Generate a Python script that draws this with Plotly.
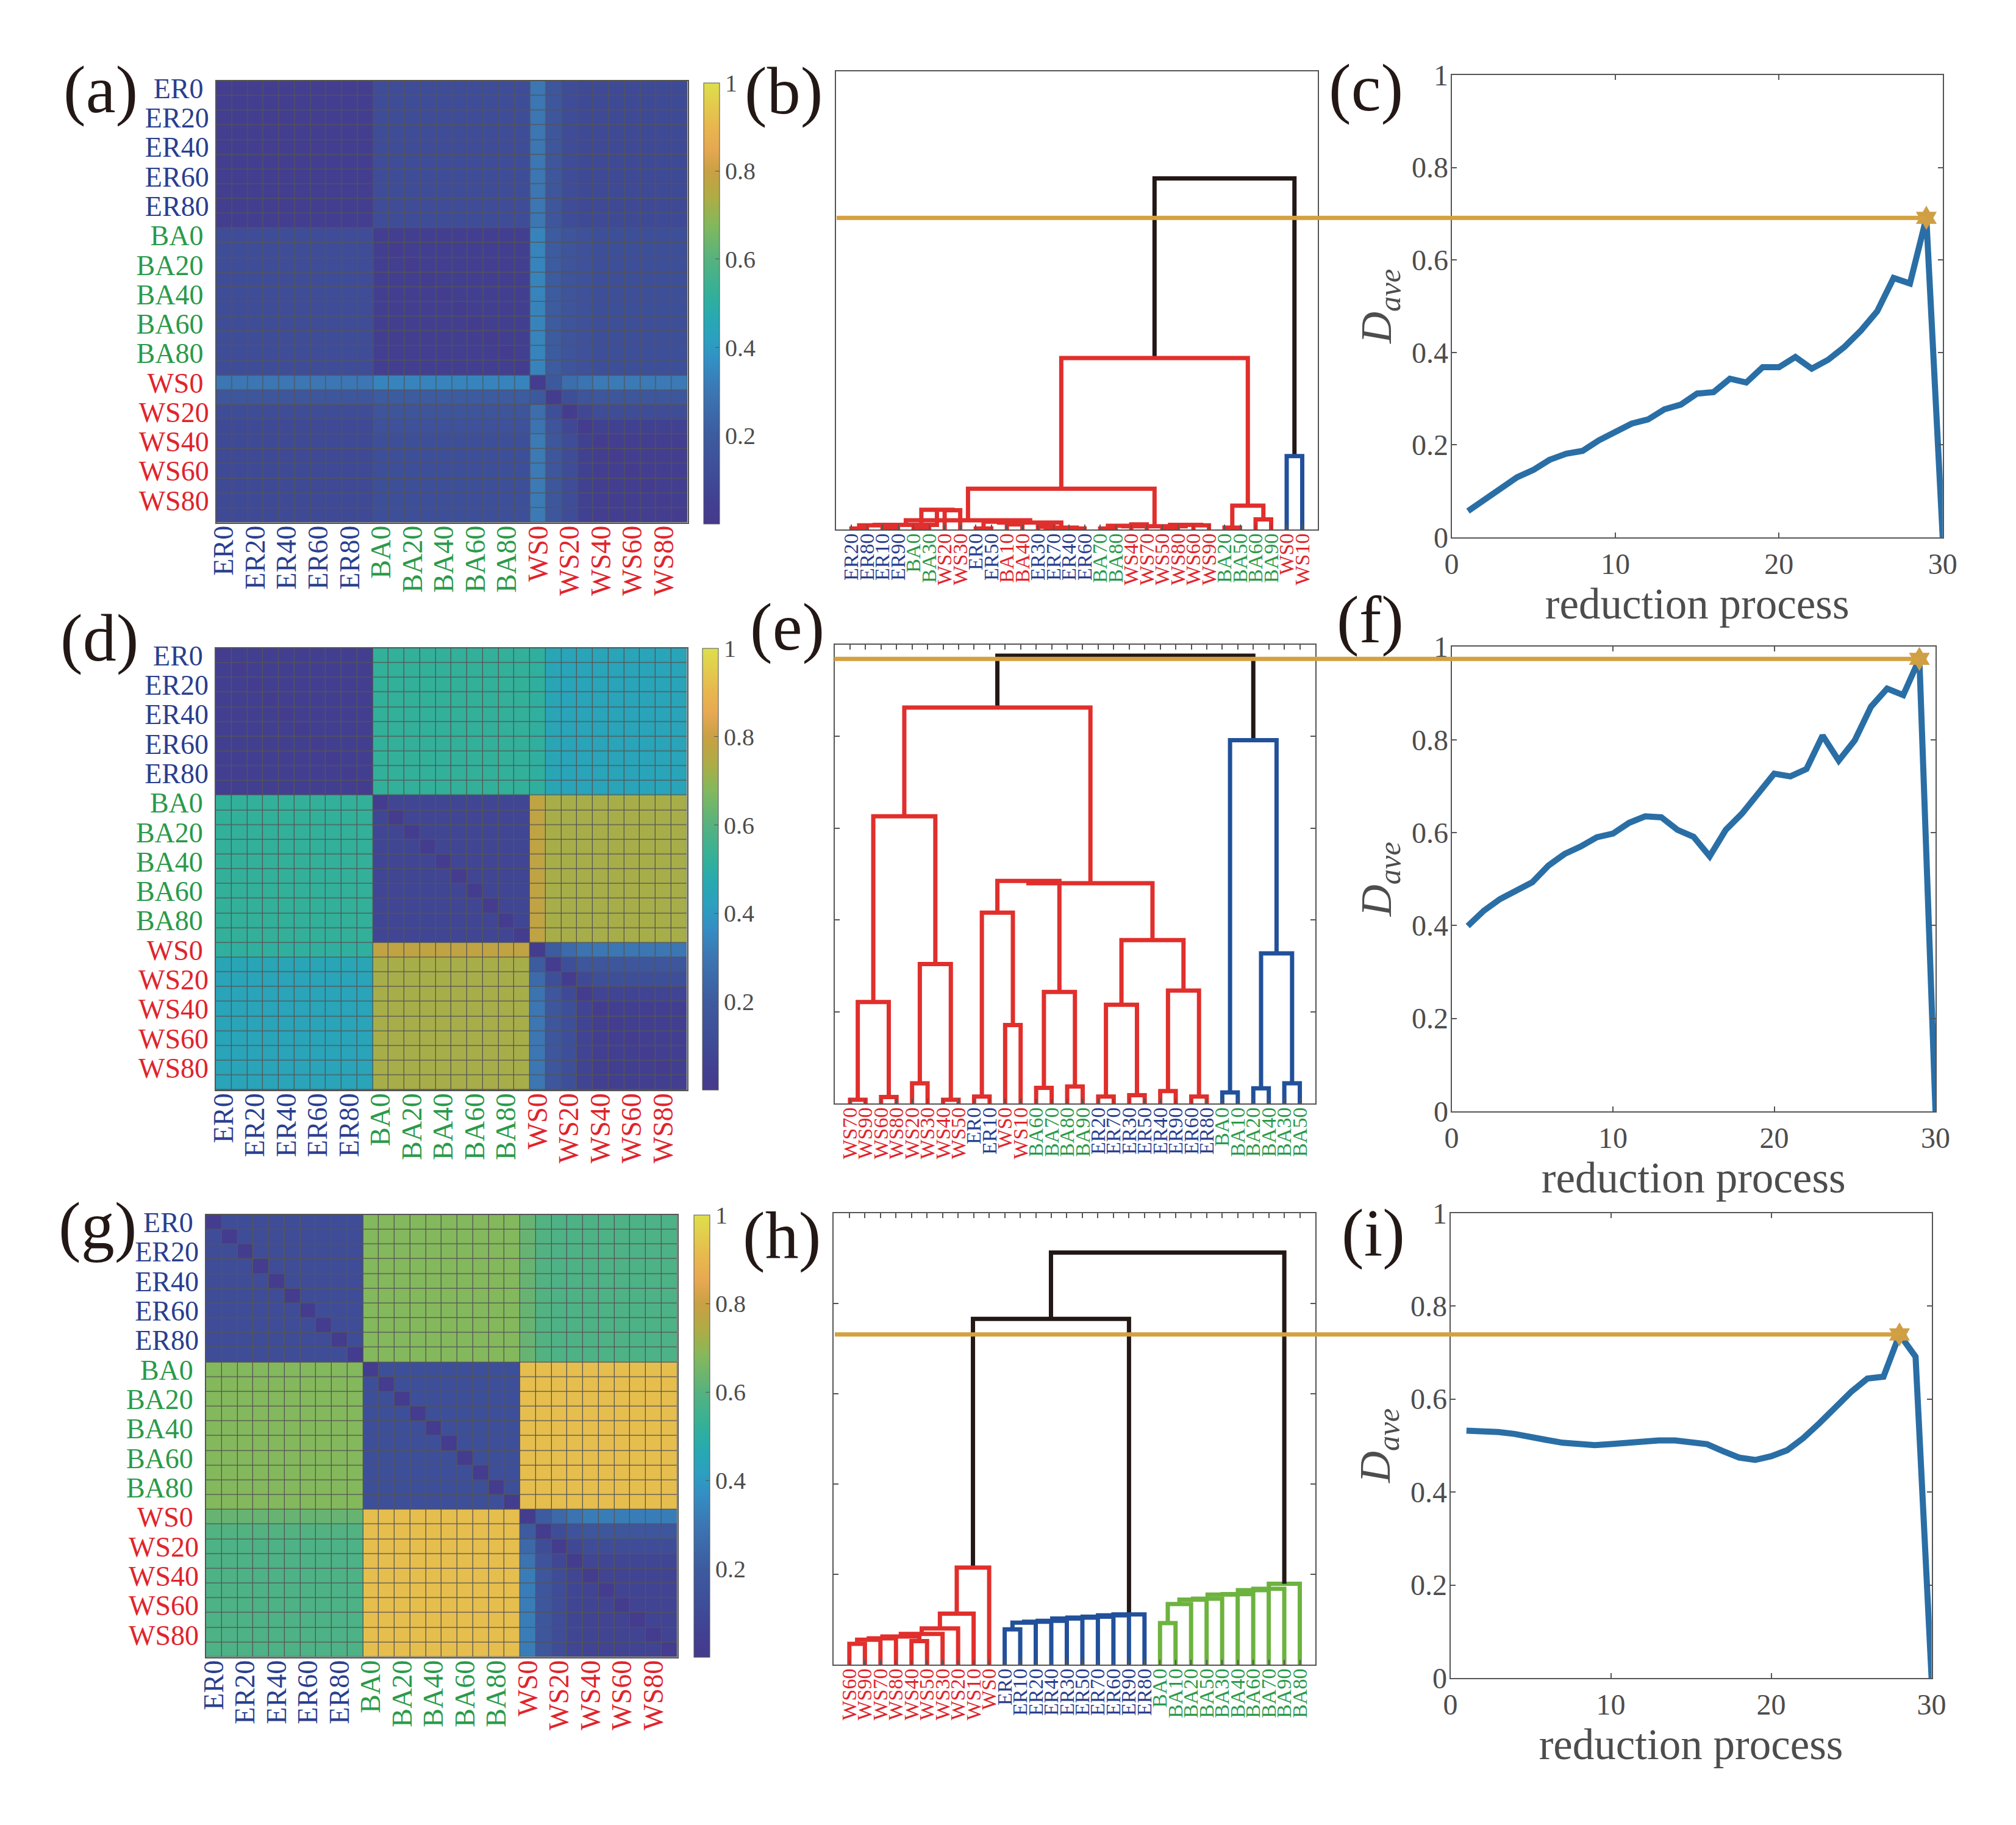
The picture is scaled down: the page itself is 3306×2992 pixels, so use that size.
import numpy as np
import plotly.graph_objects as go

W = 3306
H = 2992
PAGE_MARGIN = 8  # default body margin of the written page

# colormap
palette = [[0, '#463a8c'], [0.05, '#423f91'], [0.1, '#3f4a96'], [0.2, '#3d5b9f'], [0.3, '#3c76b3'],
           [0.37, '#338fc4'], [0.42, '#2ba0bf'], [0.47, '#27a9b0'], [0.52, '#32b09a'], [0.6, '#56b27f'],
           [0.68, '#84b85c'], [0.74, '#aeac45'], [0.8, '#c9a043'], [0.85, '#e6a852'], [0.9, '#e8b64e'],
           [1, '#dedf4c']]

heat_labels = ['ER0', 'ER20', 'ER40', 'ER60', 'ER80', 'BA0', 'BA20', 'BA40', 'BA60', 'BA80',
               'WS0', 'WS20', 'WS40', 'WS60', 'WS80']

# rows of the similarity matrices: ER block, BA block, WS0, WS10, WS20, WS30, WS40-WS90
band_sizes = [10, 10, 1, 1, 1, 1, 6]

a_bands = [[.04, .12, .30, .17, .11, .10, .10],
           [.12, .05, .34, .20, .16, .14, .13],
           [.30, .34, .02, .19, .27, .29, .31],
           [.17, .20, .19, .02, .13, .16, .17],
           [.11, .16, .27, .13, .03, .09, .11],
           [.10, .14, .29, .16, .09, .03, .06],
           [.10, .13, .31, .17, .11, .06, .04]]
a_diag = [.04, .04, .04, .04, .04, .04, .04, .04, .04, .04, .04, .03, .03, .03, .03,
          .03, .03, .03, .03, .03, .02, .02, .03, .03, .03, .03, .03, .03, .03, .03]

d_bands = [[.05, .52, .51, .45, .44, .44, .44],
           [.52, .08, .78, .73, .73, .73, .73],
           [.51, .78, .02, .20, .26, .29, .30],
           [.45, .73, .20, .02, .13, .17, .17],
           [.44, .73, .26, .13, .03, .10, .13],
           [.44, .73, .29, .17, .10, .03, .07],
           [.44, .73, .30, .17, .13, .07, .05]]
d_diag = [.03, .03, .03, .03, .03, .03, .03, .03, .03, .03, .03, .03, .03, .03, .03,
          .03, .03, .03, .03, .03, .02, .02, .03, .03, .03, .03, .03, .03, .03, .04]

g_bands = [[.12, .68, .63, .59, .58, .58, .58],
           [.68, .13, .92, .92, .92, .92, .92],
           [.63, .92, .02, .20, .25, .29, .32],
           [.59, .92, .20, .02, .12, .15, .17],
           [.58, .92, .25, .12, .02, .09, .12],
           [.58, .92, .29, .15, .09, .02, .08],
           [.58, .92, .32, .17, .12, .08, .07]]
g_diag = [.02, .02, .02, .02, .02, .02, .02, .02, .02, .02, .02, .02, .02, .02, .02,
          .02, .02, .02, .02, .02, .02, .02, .02, .02, .02, .02, .02, .02, .02, .02]

# dendrograms: leaf order, then merges as (node, node, height); new nodes number on from 30
b_leaves = ['ER20', 'ER80', 'ER10', 'ER90', 'BA0', 'BA30', 'WS20', 'WS30', 'ER0', 'ER50',
            'BA10', 'BA40', 'ER30', 'ER70', 'ER40', 'ER60', 'BA70', 'BA80', 'WS40', 'WS70',
            'WS50', 'WS80', 'WS60', 'WS90', 'BA20', 'BA50', 'BA60', 'BA90', 'WS0', 'WS10']
b_merges = [(0, 1, .002), (2, 3, .003), (30, 31, .009), (4, 5, .003), (6, 7, .042), (33, 34, .043),
            (32, 35, .010), (8, 9, .002), (10, 11, .011), (37, 38, .017), (12, 13, .006), (14, 15, .002),
            (40, 41, .004), (39, 42, .015), (36, 43, .020), (16, 17, .002), (18, 19, .011), (45, 46, .008),
            (20, 21, .001), (22, 23, .009), (48, 49, .010), (47, 50, .007), (44, 51, .089), (24, 25, .004),
            (26, 27, .022), (53, 54, .052), (52, 55, .374), (28, 29, .160), (56, 57, .766)]
b_groups = 'r' * 27 + 'bk'

e_leaves = ['WS70', 'WS90', 'WS60', 'WS80', 'WS20', 'WS30', 'WS40', 'WS50', 'ER0', 'ER10',
            'WS0', 'WS10', 'BA60', 'BA70', 'BA80', 'BA90', 'ER20', 'ER70', 'ER30', 'ER50',
            'ER40', 'ER90', 'ER60', 'ER80', 'BA0', 'BA10', 'BA20', 'BA40', 'BA30', 'BA50']
e_merges = [(0, 1, .008), (2, 3, .014), (30, 31, .221), (4, 5, .044), (6, 7, .008), (33, 34, .304),
            (32, 35, .626), (8, 9, .015), (10, 11, .171), (37, 38, .416), (12, 13, .034), (14, 15, .037),
            (40, 41, .243), (16, 17, .015), (18, 19, .018), (43, 44, .215), (20, 21, .027), (22, 23, .015),
            (46, 47, .246), (45, 48, .356), (39, 42, .485), (50, 49, .480), (36, 51, .863), (24, 25, .024),
            (26, 27, .033), (28, 29, .044), (54, 55, .327), (53, 56, .792), (52, 57, .976)]
e_groups = 'r' * 23 + 'bbbbbk'

h_leaves = ['WS60', 'WS90', 'WS70', 'WS80', 'WS40', 'WS50', 'WS30', 'WS20', 'WS10', 'WS0',
            'ER0', 'ER10', 'ER20', 'ER40', 'ER30', 'ER50', 'ER70', 'ER60', 'ER90', 'ER80',
            'BA0', 'BA10', 'BA20', 'BA50', 'BA30', 'BA40', 'BA60', 'BA70', 'BA90', 'BA80']
h_merges = [(0, 1, .046), (30, 2, .055), (31, 3, .058), (4, 5, .052), (32, 33, .062), (34, 6, .068),
            (35, 7, .080), (36, 8, .113), (37, 9, .215), (10, 11, .078), (39, 12, .093), (40, 13, .095),
            (41, 14, .097), (42, 15, .102), (43, 16, .104), (44, 17, .106), (45, 18, .109), (46, 19, .111),
            (20, 21, .092), (48, 22, .134), (49, 23, .144), (50, 24, .146), (51, 25, .155), (52, 26, .156),
            (53, 27, .165), (54, 28, .168), (55, 29, .179), (38, 47, .766), (57, 56, .913)]
h_groups = 'r' * 9 + 'b' * 9 + 'g' * 9 + 'kk'

steps = list(range(1, 31))
c_dave = [.057, .081, .106, .130, .146, .168, .181, .187, .210, .227, .246, .255, .277, .287, .311,
          .314, .343, .335, .368, .368, .390, .365, .384, .412, .447, .489, .561, .549, .691, 0]
f_dave = [.399, .432, .457, .474, .493, .529, .554, .570, .590, .598, .621, .635, .633, .606, .591,
          .549, .606, .641, .683, .727, .721, .737, .809, .755, .799, .871, .910, .896, .974, 0]
i_dave = [.532, .532, .529, .525, .520, .512, .506, .503, .501, .503, .506, .508, .511, .511, .508,
          .503, .488, .474, .469, .477, .490, .516, .548, .582, .616, .644, .648, .739, .691, 0]

SERIF = 'Liberation Serif'
GRAY = '#4d4d4d'
AXIS = '#555555'
GOLD = '#d4a140'
LABEL_COLORS = {'ER': '#2a3f8f', 'BA': '#2a9a4a', 'WS': '#e0242c'}
LINE_COLORS = {'r': '#e02f2c', 'b': '#22509a', 'g': '#6db33f', 'k': '#231815'}

FIG_W = W - 2 * PAGE_MARGIN
FIG_H = H - 2 * PAGE_MARGIN


def fx(x):
    return (x - PAGE_MARGIN) / FIG_W


def fy(y):
    return 1 - (y - PAGE_MARGIN) / FIG_H


def ids(n):
    if n == 1:
        return 'x', 'y', 'xaxis', 'yaxis'
    return f'x{n}', f'y{n}', f'xaxis{n}', f'yaxis{n}'


def tint(label, color=None, pad=''):
    return f'<span style="color:{color or LABEL_COLORS[label[:2]]}">{label}{pad}</span>'


def row_pad(label):
    # the row labels do not share one right edge: BA ones and the short ones sit further left
    return '\u2009' if label.startswith('BA') or len(label) == 3 else ''


fig = go.Figure()
layout = {'shapes': []}


def heat_panel(n, bands, diag, box, bar):
    xid, yid, xkey, ykey = ids(n)
    z = np.repeat(np.repeat(np.array(bands), band_sizes, axis=0), band_sizes, axis=1)
    np.fill_diagonal(z, diag)
    # dark backing shows through the cell gaps as the grid
    layout['shapes'].append(dict(type='rect', xref=xid, yref=yid, x0=-0.5, x1=29.5, y0=-0.5, y1=29.5,
                                 fillcolor='#555555', line_width=0, layer='below'))
    fig.add_trace(go.Heatmap(
        z=z, xaxis=xid, yaxis=yid, zmin=0, zmax=1, colorscale=palette, xgap=1.3, ygap=1.3,
        colorbar=dict(
            x=fx(bar[0]), xanchor='left', xpad=0, y=fy(bar[1]), yanchor='top', ypad=0,
            len=(bar[2] - bar[1]) / FIG_H, thickness=25.5, outlinecolor=AXIS, outlinewidth=1,
            tickvals=[.2, .4, .6, .8, 1], ticktext=['0.2', '0.4', '0.6', '0.8', '1'],
            ticks='inside', ticklen=7, tickcolor=AXIS, tickfont=dict(family=SERIF, size=40, color=GRAY)),
    ))
    ticks = list(range(0, 30, 2))
    layout[xkey] = dict(domain=[fx(box[0]), fx(box[1])], anchor=yid, range=[-0.5, 29.5], tickvals=ticks,
                        ticktext=[tint(t) for t in heat_labels], tickangle=-90, ticks='',
                        ticklabelstandoff=-15, showgrid=False, zeroline=False,
                        tickfont=dict(family=SERIF, size=46), showline=True,
                        linecolor=AXIS, linewidth=1.5, mirror=True)
    layout[ykey] = dict(domain=[fy(box[3]), fy(box[2])], anchor=xid, range=[29.5, -0.5], tickvals=ticks,
                        ticktext=[tint(t, pad=row_pad(t)) for t in heat_labels], ticks='',
                        ticklabelstandoff=1, showgrid=False, zeroline=False,
                        tickfont=dict(family=SERIF, size=46), showline=True, linecolor=AXIS,
                        linewidth=1.5, mirror=True)


def dendro_panel(n, leaves, merges, groups, box, top_ticks=True, overrides=None):
    xid, yid, xkey, ykey = ids(n)
    pos = {i: i + 1 for i in range(len(leaves))}
    hgt = {i: 0 for i in range(len(leaves))}
    segs = {g: ([], []) for g in set(groups)}
    for k, (a, b, h) in enumerate(merges):
        xs, ys = segs[groups[k]]
        xs += [pos[a], pos[a], pos[b], pos[b], None]
        ys += [hgt[a], h, h, hgt[b], None]
        pos[len(leaves) + k] = (pos[a] + pos[b]) / 2
        hgt[len(leaves) + k] = h
    for g, (xs, ys) in segs.items():
        fig.add_trace(go.Scatter(x=xs, y=ys, xaxis=xid, yaxis=yid, mode='lines', showlegend=False,
                                 cliponaxis=False, line=dict(color=LINE_COLORS[g], width=7)))
    overrides = overrides or {}
    layout[xkey] = dict(domain=[fx(box[0]), fx(box[1])], anchor=yid, range=[0, 31],
                        tickvals=list(range(1, 31)), ticktext=[tint(t, overrides.get(t)) for t in leaves],
                        tickangle=-90, ticks='inside', ticklen=8, tickcolor=AXIS, tickwidth=1.5,
                        ticklabelstandoff=-9, showgrid=False, zeroline=False,
                        tickfont=dict(family=SERIF, size=34), showline=True, linecolor=AXIS,
                        linewidth=2, mirror='ticks' if top_ticks else True)
    layout[ykey] = dict(domain=[fy(box[3]), fy(box[2])], anchor=xid, range=[0, 1], tickvals=[.2, .4, .6, .8],
                        ticks='inside' if top_ticks else '', ticklen=8, tickcolor=AXIS, tickwidth=1.5,
                        showticklabels=False, showgrid=False, zeroline=False, showline=True,
                        linecolor=AXIS, linewidth=2, mirror='ticks' if top_ticks else True)


def line_panel(n, dave, box, line_from, title_gap=14):
    xid, yid, xkey, ykey = ids(n)
    peak = int(np.argmax(dave))
    fig.add_trace(go.Scatter(x=steps, y=dave, xaxis=xid, yaxis=yid, mode='lines', showlegend=False,
                             cliponaxis=False, line=dict(color='#2a6ea6', width=10)))
    layout[xkey] = dict(domain=[fx(box[0]), fx(box[1])], anchor=yid, range=[0, 30], tickvals=[0, 10, 20, 30],
                        ticks='inside', ticklen=8, tickcolor=AXIS, tickwidth=1.5, showgrid=False,
                        zeroline=False, tickfont=dict(family=SERIF, size=48, color=GRAY), showline=True,
                        linecolor=AXIS, linewidth=2, mirror='ticks',
                        title=dict(text='reduction process', standoff=title_gap,
                                   font=dict(family=SERIF, size=71, color=GRAY)))
    layout[ykey] = dict(domain=[fy(box[3]), fy(box[2])], anchor=xid, range=[0, 1],
                        tickvals=[0, .2, .4, .6, .8, 1], ticktext=['0', '0.2', '0.4', '0.6', '0.8', '1'],
                        ticks='inside', ticklen=8, tickcolor=AXIS, tickwidth=1.5, showgrid=False,
                        zeroline=False, tickfont=dict(family=SERIF, size=48, color=GRAY), showline=True,
                        linecolor=AXIS, linewidth=2, mirror='ticks', ticklabelstandoff=-6,
                        title=dict(text='<i>D<sub>ave</sub></i>', standoff=10,
                                   font=dict(family=SERIF, size=72, color=GRAY)))
    # gold cut line runs from the dendrogram over to the peak of the curve
    peak_px = box[0] + steps[peak] / 30 * (box[1] - box[0])
    layout['shapes'].append(dict(
        type='line', xref='paper', yref=yid, x0=fx(line_from), x1=fx(peak_px), y0=dave[peak], y1=dave[peak],
        line=dict(color=GOLD, width=7), layer='above'))
    fig.add_trace(go.Scatter(x=[steps[peak]], y=[dave[peak]], xaxis=xid, yaxis=yid, mode='markers',
                             showlegend=False, cliponaxis=False,
                             marker=dict(symbol='hexagram', size=30, color='#cf9f45')))


heat_panel(1, a_bands, a_diag, (354.6, 1127.6, 132.8, 856.7), (1153.6, 135.7, 859))
dendro_panel(2, b_leaves, b_merges, b_groups, (1370.7, 2161, 116.6, 868), top_ticks=False,
             overrides={'BA10': LABEL_COLORS['WS'], 'BA40': LABEL_COLORS['WS']})
line_panel(3, c_dave, (2380.5, 3185.8, 122.9, 881), 1372)
heat_panel(4, d_bands, d_diag, (354, 1126.6, 1062.7, 1787), (1152, 1063, 1787))
dendro_panel(5, e_leaves, e_merges, e_groups, (1368.5, 2157, 1057, 1809))
line_panel(6, f_dave, (2380.5, 3174, 1060.4, 1822), 1368)
heat_panel(7, g_bands, g_diag, (338, 1110.7, 1991.8, 2716.7), (1137.8, 1992, 2716.7))
dendro_panel(8, h_leaves, h_merges, h_groups, (1367.4, 2157, 1989, 2729))
line_panel(9, i_dave, (2378.5, 3167.6, 1988.8, 2751), 1369, title_gap=8)

panel_tags = ['(a)', '(b)', '(c)', '(d)', '(e)', '(f)', '(g)', '(h)', '(i)']
tag_x = [165, 1285, 2240, 163, 1291, 2247, 160, 1282, 2252]
tag_y = [147, 149, 144, 1046, 1028, 1016, 2010, 2026, 2021]
layout['annotations'] = [
    dict(text=t, x=fx(x), y=fy(y), xref='paper', yref='paper', showarrow=False, xanchor='center',
         yanchor='middle', font=dict(family=SERIF, size=110, color='#231815'))
    for t, x, y in zip(panel_tags, tag_x, tag_y)
]

fig.update_layout(width=FIG_W, height=FIG_H, autosize=False,
                  margin=dict(l=0, r=0, t=0, b=0, autoexpand=False),
                  paper_bgcolor='white', plot_bgcolor='white', showlegend=False, **layout)

fig.write_html("out.html")
